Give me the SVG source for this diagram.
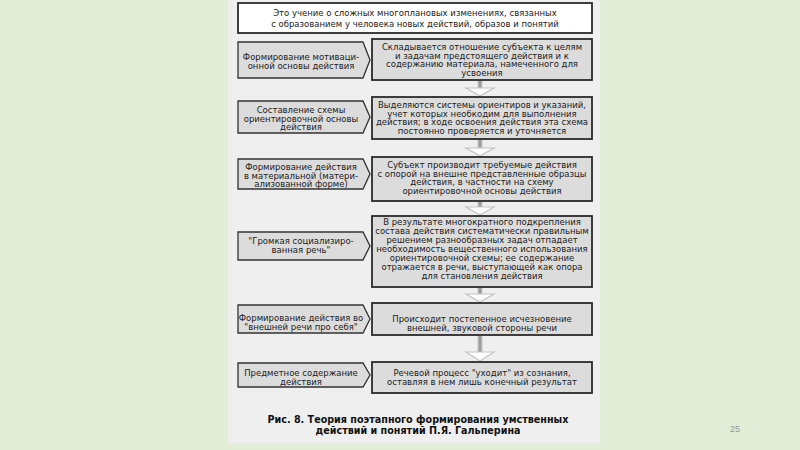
<svg xmlns="http://www.w3.org/2000/svg" width="800" height="450" viewBox="0 0 800 450">
<defs>
<style>
.t{font-family:"DejaVu Sans",Verdana,sans-serif;font-size:8.5px;fill:#222;text-anchor:middle}
.cap{font-family:"DejaVu Sans",Verdana,sans-serif;font-size:9.6px;font-weight:bold;fill:#111;text-anchor:middle}
.lp{fill:#dcdcdc;stroke:#333;stroke-width:1.3}
.rb{fill:#dcdcdc;stroke:#2a2a2a;stroke-width:1.8}
.sh{fill:#9a9a9a}
.shaft{fill:url(#sg)}
.head{fill:#fff;stroke:#c4c4c4;stroke-width:1.2}
</style>
<linearGradient id="sg" x1="0" y1="0" x2="1" y2="0">
<stop offset="0" stop-color="#e8e8e8"/><stop offset="0.5" stop-color="#8a8a8a"/><stop offset="1" stop-color="#e8e8e8"/>
</linearGradient>
</defs>
<rect width="800" height="450" fill="#e3eed9"/>
<rect x="228" y="0" width="372" height="443" fill="#efefef"/>

<g id="top">
<rect x="238" y="3" width="354" height="30" fill="#fff" stroke="#2a2a2a" stroke-width="1.8"/>
<text class="t" x="415" y="16">Это учение о сложных многоплановых изменениях, связанных</text>
<text class="t" x="415" y="26.5">с образованием у человека новых действий, образов и понятий</text>
</g>

<g id="connectors">
<g><rect class="shaft" x="477" y="81" width="6" height="7"/><polygon class="head" points="466,88 494,88 480,96"/></g>
<g><rect class="shaft" x="477" y="140" width="6" height="8"/><polygon class="head" points="466,148 494,148 480,156"/></g>
<g><rect class="shaft" x="477" y="202" width="6" height="6"/><polygon class="head" points="466,207 494,207 480,215"/></g>
<g><rect class="shaft" x="477" y="288" width="6" height="7"/><polygon class="head" points="466,294 494,294 480,302"/></g>
<g><rect class="shaft" x="477" y="336" width="6" height="17"/><polygon class="head" points="466,352 494,352 480,361"/></g>
</g>

<g id="s1">
<polygon class="lp" points="238,42 363,42 370,60 363,78 238,78"/>
<text class="t" x="301" y="60">Формирование мотиваци-</text>
<text class="t" x="301" y="69">онной основы действия</text>
<rect class="rb" x="372" y="39" width="220" height="41"/>
<text class="t" x="482" y="50">Складывается отношение субъекта к целям</text>
<text class="t" x="482" y="58.5">и задачам предстоящего действия и к</text>
<text class="t" x="482" y="67">содержанию материала, намеченного для</text>
<text class="t" x="482" y="75.5">усвоения</text>
</g>

<g id="s2">
<polygon class="lp" points="238,101 363,101 370,117 363,133 238,133"/>
<text class="t" x="301" y="113">Составление схемы</text>
<text class="t" x="301" y="121.5">ориентировочной основы</text>
<text class="t" x="301" y="130">действия</text>
<rect class="rb" x="372" y="97" width="220" height="42"/>
<text class="t" x="482" y="108">Выделяются системы ориентиров и указаний,</text>
<text class="t" x="482" y="116.5">учет которых необкодим для выполнения</text>
<text class="t" x="482" y="125">действия; в ходе освоения действия эта схема</text>
<text class="t" x="482" y="133.5">постоянно проверяется и уточняется</text>
</g>

<g id="s3">
<polygon class="lp" points="238,159 363,159 370,174 363,189 238,189"/>
<text class="t" x="301" y="170">Формирование действия</text>
<text class="t" x="301" y="178.5">в материальной (матери-</text>
<text class="t" x="301" y="187">ализованной форме)</text>
<rect class="rb" x="372" y="157" width="220" height="44"/>
<text class="t" x="482" y="168">Субъект производит требуемые действия</text>
<text class="t" x="482" y="176.5">с опорой на внешне представленные образцы</text>
<text class="t" x="482" y="185">действия, в частности на схему</text>
<text class="t" x="482" y="193.5">ориентировочной основы действия</text>
</g>

<g id="s4">
<polygon class="lp" points="238,232 363,232 370,246 363,260 238,260"/>
<text class="t" x="301" y="244">"Громкая социализиро-</text>
<text class="t" x="301" y="252.5">ванная речь"</text>
<rect class="rb" x="372" y="216" width="220" height="71"/>
<text class="t" x="482" y="225">В результате многократного подкрепления</text>
<text class="t" x="482" y="234">состава действия систематически правильным</text>
<text class="t" x="482" y="243">решением разнообразных задач отпадает</text>
<text class="t" x="482" y="252">необходимость вещественного использования</text>
<text class="t" x="482" y="261">ориентировочной схемы; ее содержание</text>
<text class="t" x="482" y="270">отражается в речи, выступающей как опора</text>
<text class="t" x="482" y="279">для становления действия</text>
</g>

<g id="s5">
<polygon class="lp" points="238,305 363,305 370,319 363,333 238,333"/>
<text class="t" x="301" y="321">Формирование действия во</text>
<text class="t" x="301" y="330">"внешней речи про себя"</text>
<rect class="rb" x="372" y="303" width="220" height="32"/>
<text class="t" x="482" y="322">Происходит постепенное исчезновение</text>
<text class="t" x="482" y="330.5">внешней, звуковой стороны речи</text>
</g>

<g id="s6">
<polygon class="lp" points="238,363 363,363 370,375 363,387 238,387"/>
<text class="t" x="301" y="376">Предметное содержание</text>
<text class="t" x="301" y="384.5">действия</text>
<rect class="rb" x="372" y="362" width="220" height="31"/>
<text class="t" x="482" y="376">Речевой процесс "уходит" из сознания,</text>
<text class="t" x="482" y="384.5">оставляя в нем лишь конечный результат</text>
</g>

<g id="caption">
<text class="cap" x="418" y="423">Рис. 8. Теория поэтапного формирования умственных</text>
<text class="cap" x="418" y="434">действий и понятий П.Я. Гальперина</text>
</g>
<text x="735" y="432" font-family="Liberation Sans, Arial, sans-serif" font-size="9" fill="#999" text-anchor="middle">25</text>
</svg>
